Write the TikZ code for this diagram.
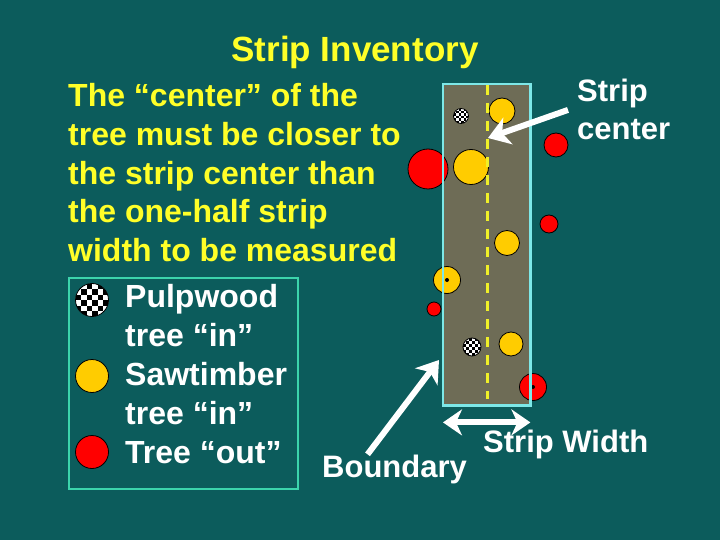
\documentclass[tikz,border=0pt]{standalone}
\usepackage{fontspec}
\setmainfont{Liberation Sans}
\usetikzlibrary{arrows.meta}
\definecolor{bgteal}{RGB}{12,92,92}
\definecolor{textyellow}{RGB}{255,255,40}
\definecolor{stripgray}{RGB}{110,108,86}
\definecolor{stripedge}{RGB}{125,232,232}
\definecolor{legendedge}{RGB}{60,212,172}
\definecolor{centerline}{RGB}{240,240,40}
\definecolor{sawyellow}{RGB}{255,204,0}
\definecolor{outred}{RGB}{255,0,0}
\tikzset{
  tree/.style={circle,draw=black,line width=0.8pt,inner sep=0pt,minimum size=#1},
  sawtree/.style={tree=#1,fill=sawyellow},
  outtree/.style={tree=#1,fill=outred},
  pulptree/.style={tree=#1,fill=white,path picture={
    \pgfmathsetmacro\sq{#1/6}
    \begin{scope}[shift={(path picture bounding box.center)}]
      \foreach \i in {-4,...,3}{\foreach \j in {-4,...,3}{
        \pgfmathtruncatemacro\k{mod(\i+\j+20,2)}
        \ifnum\k=0 \fill[black] (\i*\sq,\j*\sq) rectangle ++(\sq,\sq);\fi}}
    \end{scope}}},
  whitetext/.style={text=white,font=\fontsize{31}{38}\selectfont\bfseries,inner sep=0pt,anchor=base west},
  bigarrow/.style={white,line width=6pt,-{Stealth[length=21pt,width=28pt,inset=6pt]}},
}
\begin{document}
\begin{tikzpicture}[x=1pt,y=-1pt]
\fill[bgteal] (0,0) rectangle (720,540);
\useasboundingbox (0,0) rectangle (720,540);
% title and rule (multi-line nodes sit on their last baseline)
\node[text=textyellow,font=\fontsize{35}{42}\selectfont\bfseries,inner sep=0pt,anchor=base] (title) at (355,62) {Strip Inventory};
\node[text=textyellow,font=\fontsize{32}{38.5}\selectfont\bfseries,inner sep=0pt,align=left,anchor=base west] (rule) at (68,261)
  {The “center” of the\\tree must be closer to\\the strip center than\\the one-half strip\\width to be measured};
% legend
\node[draw=legendedge,line width=2pt,minimum width=229pt,minimum height=211pt,inner sep=0pt,anchor=north west] (legend) at (68,277) {};
\node[pulptree=33] (lp) at (92,300) {};
\node[sawtree=33] (ls) at (92,376) {};
\node[outtree=33] (lo) at (92,452) {};
\node[whitetext,align=left,font=\fontsize{32}{39}\selectfont\bfseries] (legtext) at (125,463)
  {Pulpwood\\tree “in”\\Sawtimber\\tree “in”\\Tree “out”};
% the strip
\node[fill=stripgray,minimum width=87pt,minimum height=321pt,inner sep=0pt,anchor=north west] (strip) at (443,84) {};
\node[pulptree=15] (p1) at (461,116) {};
\node[sawtree=26] (s1) at (502,111) {};
\node[outtree=40] (o1) at (428,169) {};
\node[sawtree=35] (s2) at (471,167) {};
\node[outtree=24] (o2) at (556,145) {};
\node[outtree=18] (o3) at (549,224) {};
\node[sawtree=25] (s3) at (507,243) {};
\node[sawtree=27] (s4) at (447,280) {};
\node[outtree=14] (o4) at (434,309) {};
\node[pulptree=18] (p2) at (472,347) {};
\node[sawtree=24] (s5) at (511,344) {};
\node[outtree=27] (o5) at (533,387) {};
\fill[black] (s4) circle[radius=2];
\fill[black] (o5) circle[radius=2];
\coordinate (cltop) at (487,85);
\coordinate (clbot) at (487,399);
\draw[centerline,line width=3pt,dash pattern=on 10pt off 8pt] (cltop) -- (clbot);
\draw[stripedge,line width=2.5pt] (strip.north west) rectangle (strip.south east);
% labels and arrows
\node[whitetext,align=left] (sc) at (577,140) {Strip\\center};
\node[whitetext] (sw) at (483,452) {Strip Width};
\node[whitetext] (bd) at (322,477) {Boundary};
\coordinate (sctip) at (488,138);
\coordinate (bdtip) at (439,360);
\draw[bigarrow] ([xshift=-9pt]sc.west) -- (sctip);
\draw[bigarrow] ([xshift=-27pt]bd.north) -- (bdtip);
\draw[white,line width=6pt,{Stealth[length=19pt,width=26pt,inset=6pt]}-{Stealth[length=19pt,width=26pt,inset=6pt]}]
  ([yshift=-17pt]strip.south west) -- ([yshift=-17pt]strip.south east);
\end{tikzpicture}
\end{document}
